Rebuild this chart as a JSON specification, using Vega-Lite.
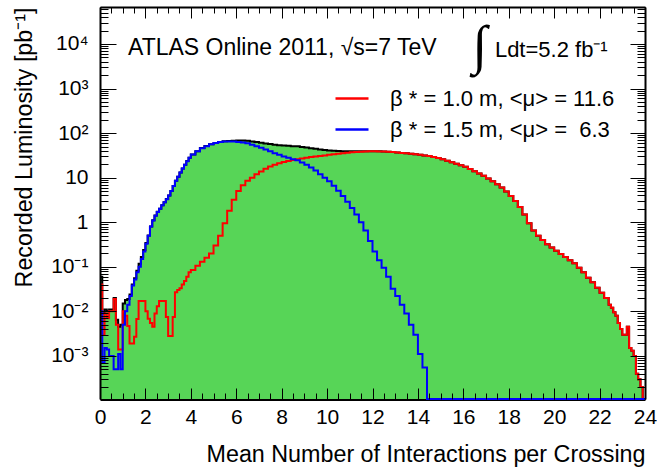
{
  "$schema": "https://vega.github.io/schema/vega-lite/v6.json",
  "width": 545,
  "height": 392,
  "autosize": {"type": "none"},
  "padding": {"left": 100, "top": 7, "right": 12, "bottom": 69},
  "config": {
    "font": "Liberation Sans",
    "view": {"stroke": null},
    "axis": {"grid": false, "labelColor": "black", "tickColor": "black", "domainColor": "black", "titleColor": "black", "labelFont": "Liberation Sans", "titleFont": "Liberation Sans", "titleFontWeight": "normal", "labelOverlap": false, "labelFlush": false, "tickWidth": 1}
  },
  "data": {"values": [
    {"x":0.0,"r":0.04,"b":0.010,"t":0.06},
    {"x":0.1,"r":0.003,"b":0.0007,"t":0.009},
    {"x":0.2,"r":0.009,"b":0.0015,"t":0.011},
    {"x":0.3,"r":0.007,"b":0.0014,"t":0.010},
    {"x":0.4,"r":0.010,"b":0.0010,"t":0.011},
    {"x":0.5,"r":0.010,"b":0.0010,"t":0.011},
    {"x":0.6,"r":0.019,"b":0.0005,"t":0.020},
    {"x":0.7,"r":0.005,"b":0.0005,"t":0.0065},
    {"x":0.8,"r":0.0014,"b":0.0011,"t":0.0045},
    {"x":0.9,"r":0.0014,"b":0.0005,"t":0.005},
    {"x":1.0,"r":0.010,"b":0.005,"t":0.015},
    {"x":1.1,"r":0.008,"b":0.010,"t":0.018},
    {"x":1.2,"r":0.0047,"b":0.014,"t":0.019},
    {"x":1.3,"r":0.0019,"b":0.022,"t":0.024},
    {"x":1.4,"r":0.0019,"b":0.038,"t":0.040},
    {"x":1.5,"r":0.0027,"b":0.052,"t":0.055},
    {"x":1.6,"r":0.0067,"b":0.075,"t":0.082},
    {"x":1.7,"r":0.017,"b":0.10,"t":0.117},
    {"x":1.8,"r":0.017,"b":0.15,"t":0.167},
    {"x":1.9,"r":0.017,"b":0.22,"t":0.237},
    {"x":2.0,"r":0.010,"b":0.33,"t":0.34},
    {"x":2.1,"r":0.0068,"b":0.5,"t":0.507},
    {"x":2.2,"r":0.0055,"b":0.8,"t":0.806},
    {"x":2.3,"r":0.0045,"b":1.1,"t":1.105},
    {"x":2.4,"r":0.009,"b":1.4,"t":1.41},
    {"x":2.5,"r":0.013,"b":1.7,"t":1.713},
    {"x":2.6,"r":0.017,"b":2.0,"t":2.017},
    {"x":2.7,"r":0.017,"b":2.4,"t":2.417},
    {"x":2.8,"r":0.017,"b":2.8,"t":2.817},
    {"x":2.9,"r":0.0075,"b":3.3,"t":3.31},
    {"x":3.0,"r":0.0028,"b":4.0,"t":4.0},
    {"x":3.1,"r":0.0028,"b":5.0,"t":5.0},
    {"x":3.2,"r":0.0075,"b":6.5,"t":6.51},
    {"x":3.3,"r":0.027,"b":8.5,"t":8.53},
    {"x":3.4,"r":0.030,"b":10.5,"t":10.53},
    {"x":3.5,"r":0.033,"b":13,"t":13.03},
    {"x":3.6,"r":0.040,"b":16,"t":16.04},
    {"x":3.7,"r":0.048,"b":19.5,"t":19.55},
    {"x":3.8,"r":0.060,"b":23.5,"t":23.56},
    {"x":3.9,"r":0.075,"b":28,"t":28.08},
    {"x":4.0,"r":0.085,"b":33,"t":33.09},
    {"x":4.2,"r":0.105,"b":39,"t":39.1},
    {"x":4.4,"r":0.13,"b":46,"t":46.13},
    {"x":4.6,"r":0.16,"b":51,"t":51.16},
    {"x":4.8,"r":0.2,"b":56,"t":56.2},
    {"x":5.0,"r":0.3,"b":60,"t":60.3},
    {"x":5.2,"r":0.5,"b":63,"t":63.5},
    {"x":5.4,"r":0.95,"b":64.5,"t":65.45},
    {"x":5.6,"r":1.8,"b":65,"t":66.8},
    {"x":5.8,"r":3.2,"b":64.5,"t":67.7},
    {"x":6.0,"r":5.0,"b":63.5,"t":68.5},
    {"x":6.2,"r":6.8,"b":61.5,"t":68.3},
    {"x":6.4,"r":8.5,"b":59,"t":67.5},
    {"x":6.6,"r":10,"b":55,"t":65},
    {"x":6.8,"r":12,"b":51,"t":63},
    {"x":7.0,"r":13.8,"b":47,"t":60.8},
    {"x":7.2,"r":15.8,"b":43,"t":58.8},
    {"x":7.4,"r":17.8,"b":39,"t":56.8},
    {"x":7.6,"r":19.6,"b":35.5,"t":55.1},
    {"x":7.8,"r":21.2,"b":32.5,"t":53.7},
    {"x":8.0,"r":22.6,"b":30,"t":52.6},
    {"x":8.2,"r":23.8,"b":28,"t":51.8},
    {"x":8.4,"r":25,"b":26,"t":51},
    {"x":8.6,"r":26,"b":24.5,"t":50.5},
    {"x":8.8,"r":27,"b":22,"t":49},
    {"x":9.0,"r":28,"b":19.5,"t":47.5},
    {"x":9.2,"r":29,"b":17,"t":46},
    {"x":9.4,"r":30,"b":14.5,"t":44.5},
    {"x":9.6,"r":30.8,"b":12,"t":42.8},
    {"x":9.8,"r":31.6,"b":10,"t":41.6},
    {"x":10.0,"r":32.5,"b":8.3,"t":40.8},
    {"x":10.2,"r":33.5,"b":6.6,"t":40.1},
    {"x":10.4,"r":34.5,"b":5.1,"t":39.6},
    {"x":10.6,"r":35.4,"b":3.9,"t":39.3},
    {"x":10.8,"r":36.2,"b":2.9,"t":39.1},
    {"x":11.0,"r":37,"b":2.1,"t":39.1},
    {"x":11.2,"r":37.7,"b":1.5,"t":39.2},
    {"x":11.4,"r":38.3,"b":1.0,"t":39.3},
    {"x":11.6,"r":38.7,"b":0.65,"t":39.35},
    {"x":11.8,"r":39,"b":0.38,"t":39.38},
    {"x":12.0,"r":39,"b":0.22,"t":39.22},
    {"x":12.2,"r":38.8,"b":0.14,"t":38.94},
    {"x":12.4,"r":38.5,"b":0.095,"t":38.6},
    {"x":12.6,"r":38,"b":0.06,"t":38.06},
    {"x":12.8,"r":37.5,"b":0.032,"t":37.53},
    {"x":13.0,"r":36.8,"b":0.022,"t":36.82},
    {"x":13.2,"r":36,"b":0.014,"t":36.01},
    {"x":13.4,"r":35.3,"b":0.009,"t":35.31},
    {"x":13.6,"r":34.5,"b":0.005,"t":34.5},
    {"x":13.8,"r":33.5,"b":0.003,"t":33.5},
    {"x":14.0,"r":32.5,"b":0.0011,"t":32.5},
    {"x":14.2,"r":31.5,"b":0.00055,"t":31.5},
    {"x":14.4,"r":30.5,"b":0.000108,"t":30.5},
    {"x":14.6,"r":29,"b":0.000108,"t":29},
    {"x":14.8,"r":27.5,"b":0.000108,"t":27.5},
    {"x":15.0,"r":25.8,"b":0.000108,"t":25.8},
    {"x":15.2,"r":24,"b":0.000108,"t":24},
    {"x":15.4,"r":22.3,"b":0.000108,"t":22.3},
    {"x":15.6,"r":20.5,"b":0.000108,"t":20.5},
    {"x":15.8,"r":19,"b":0.000108,"t":19},
    {"x":16.0,"r":17.5,"b":0.000108,"t":17.5},
    {"x":16.2,"r":15.7,"b":0.000108,"t":15.7},
    {"x":16.4,"r":14,"b":0.000108,"t":14},
    {"x":16.6,"r":12.4,"b":0.000108,"t":12.4},
    {"x":16.8,"r":11,"b":0.000108,"t":11},
    {"x":17.0,"r":9.6,"b":0.000108,"t":9.6},
    {"x":17.2,"r":8.3,"b":0.000108,"t":8.3},
    {"x":17.4,"r":7.1,"b":0.000108,"t":7.1},
    {"x":17.6,"r":6.0,"b":0.000108,"t":6.0},
    {"x":17.8,"r":4.9,"b":0.000108,"t":4.9},
    {"x":18.0,"r":3.9,"b":0.000108,"t":3.9},
    {"x":18.2,"r":3.0,"b":0.000108,"t":3.0},
    {"x":18.4,"r":2.2,"b":0.000108,"t":2.2},
    {"x":18.6,"r":1.5,"b":0.000108,"t":1.5},
    {"x":18.8,"r":0.95,"b":0.000108,"t":0.95},
    {"x":19.0,"r":0.65,"b":0.000108,"t":0.65},
    {"x":19.2,"r":0.5,"b":0.000108,"t":0.5},
    {"x":19.4,"r":0.4,"b":0.000108,"t":0.4},
    {"x":19.6,"r":0.32,"b":0.000108,"t":0.32},
    {"x":19.8,"r":0.27,"b":0.000108,"t":0.27},
    {"x":20.0,"r":0.23,"b":0.000108,"t":0.23},
    {"x":20.2,"r":0.195,"b":0.000108,"t":0.195},
    {"x":20.4,"r":0.165,"b":0.000108,"t":0.165},
    {"x":20.6,"r":0.14,"b":0.000108,"t":0.14},
    {"x":20.8,"r":0.12,"b":0.000108,"t":0.12},
    {"x":21.0,"r":0.095,"b":0.000108,"t":0.095},
    {"x":21.2,"r":0.075,"b":0.000108,"t":0.075},
    {"x":21.4,"r":0.057,"b":0.000108,"t":0.057},
    {"x":21.6,"r":0.045,"b":0.000108,"t":0.045},
    {"x":21.8,"r":0.034,"b":0.000108,"t":0.034},
    {"x":22.0,"r":0.026,"b":0.000108,"t":0.026},
    {"x":22.2,"r":0.02,"b":0.000108,"t":0.02},
    {"x":22.4,"r":0.014,"b":0.000108,"t":0.014},
    {"x":22.5,"r":0.012,"b":0.000108,"t":0.012},
    {"x":22.6,"r":0.0095,"b":0.000108,"t":0.0095},
    {"x":22.7,"r":0.008,"b":0.000108,"t":0.008},
    {"x":22.8,"r":0.0055,"b":0.000108,"t":0.0055},
    {"x":22.9,"r":0.004,"b":0.000108,"t":0.004},
    {"x":23.0,"r":0.003,"b":0.000108,"t":0.003},
    {"x":23.1,"r":0.003,"b":0.000108,"t":0.003},
    {"x":23.2,"r":0.0045,"b":0.000108,"t":0.0045},
    {"x":23.3,"r":0.0015,"b":0.000108,"t":0.0015},
    {"x":23.4,"r":0.0013,"b":0.000108,"t":0.0013},
    {"x":23.5,"r":0.001,"b":0.000108,"t":0.001},
    {"x":23.6,"r":0.0004,"b":0.000108,"t":0.0004},
    {"x":23.7,"r":0.0003,"b":0.000108,"t":0.0003},
    {"x":23.8,"r":0.0002,"b":0.000108,"t":0.0002},
    {"x":23.9,"r":0.000108,"b":0.000108,"t":0.000108},
    {"x":24.0,"r":0.000108,"b":0.000108,"t":0.000108}
  ]},
  "layer": [
    {
      "mark": {"type": "area", "interpolate": "step-after", "color": "#57d557", "clip": true},
      "encoding": {
        "x": {"field": "x", "type": "quantitative",
              "scale": {"domain": [0, 24], "nice": false, "zero": false},
              "axis": {"orient": "bottom", "values": [0,2,4,6,8,10,12,14,16,18,20,22,24], "format": "d", "ticks": false, "domain": true, "domainWidth": 3, "zindex": 0, "labelFontSize": 21, "labelPadding": 7,
                       "title": "Mean Number of Interactions per Crossing", "titleAnchor": "end", "titleFontSize": 23.3, "titlePadding": 16}},
        "y": {"field": "t", "type": "quantitative",
              "scale": {"type": "log", "domain": [0.000108, 67600], "nice": false},
              "axis": {"orient": "left", "values": [0.001,0.01,0.1,1,10,100,1000,10000], "ticks": false, "domain": false, "labelFontSize": 21, "labelPadding": 12,
                       "labelExpr": "datum.value >= 9999 ? '10⁴' : datum.value >= 999 ? '10³' : datum.value >= 99 ? '10²' : datum.value >= 9 ? '10' : datum.value >= 0.9 ? '1' : datum.value >= 0.09 ? '10⁻¹' : datum.value >= 0.009 ? '10⁻²' : '10⁻³'",
                       "title": "Recorded Luminosity [pb⁻¹]", "titleAnchor": "end", "titleFontSize": 23.3, "titlePadding": 14}},
        "y2": {"datum": 0.000108}
      }
    },
    {
      "mark": {"type": "line", "interpolate": "step-after", "color": "black", "strokeWidth": 2, "clip": false},
      "encoding": {
        "x": {"field": "x", "type": "quantitative",
              "axis": {"orient": "bottom", "values": [0,2,4,6,8,10,12,14,16,18,20,22,24], "labels": false, "domain": false, "tickSize": -11, "zindex": 1, "title": null}},
        "y": {"field": "t", "type": "quantitative",
              "axis": {"orient": "left", "values": [0.001,0.01,0.1,1,10,100,1000,10000], "labels": false, "domain": true, "domainWidth": 2, "tickSize": -16, "zindex": 1, "title": null}}
      }
    },
    {
      "mark": {"type": "line", "interpolate": "step-after", "strokeWidth": 2, "clip": false},
      "encoding": {
        "x": {"field": "x", "type": "quantitative",
              "axis": {"orient": "bottom", "values": [0,0.5,1,1.5,2,2.5,3,3.5,4,4.5,5,5.5,6,6.5,7,7.5,8,8.5,9,9.5,10,10.5,11,11.5,12,12.5,13,13.5,14,14.5,15,15.5,16,16.5,17,17.5,18,18.5,19,19.5,20,20.5,21,21.5,22,22.5,23,23.5,24], "labels": false, "domain": false, "tickSize": -6, "zindex": 1, "title": null}},
        "y": {"field": "r", "type": "quantitative",
              "axis": {"orient": "left", "values": [0.0002,0.0003,0.0004,0.0005,0.0006,0.0007,0.0008,0.0009,0.002,0.003,0.004,0.005,0.006,0.007,0.008,0.009,0.02,0.03,0.04,0.05,0.06,0.07,0.08,0.09,0.2,0.3,0.4,0.5,0.6,0.7,0.8,0.9,2,3,4,5,6,7,8,9,20,30,40,50,60,70,80,90,200,300,400,500,600,700,800,900,2000,3000,4000,5000,6000,7000,8000,9000,20000,30000,40000,50000,60000], "labels": false, "domain": false, "tickSize": -8, "zindex": 1, "title": null}},
        "color": {"datum": "β * = 1.0 m, <μ> = 11.6", "type": "nominal",
                  "scale": {"domain": ["β * = 1.0 m, <μ> = 11.6", "β * = 1.5 m, <μ> = \u00a06.3"], "range": ["#ff0000", "#0000ff"]},
                  "legend": {"orient": "none", "legendX": 234, "legendY": 73.5, "title": null, "symbolType": "stroke", "symbolSize": 1089, "symbolStrokeWidth": 2.5, "labelFontSize": 22, "labelFont": "Liberation Sans", "labelColor": "black", "labelOffset": 20, "rowPadding": 2, "padding": 0, "labelLimit": 400}}
      }
    },
    {
      "mark": {"type": "line", "interpolate": "step-after", "strokeWidth": 2, "clip": false},
      "encoding": {
        "x": {"field": "x", "type": "quantitative",
              "axis": {"orient": "top", "values": [0,2,4,6,8,10,12,14,16,18,20,22,24], "labels": false, "domain": true, "domainWidth": 2, "tickSize": -11, "zindex": 1, "title": null}},
        "y": {"field": "b", "type": "quantitative",
              "axis": {"orient": "right", "values": [0.001,0.01,0.1,1,10,100,1000,10000], "labels": false, "domain": true, "domainWidth": 2, "tickSize": -15, "zindex": 1, "title": null}},
        "color": {"datum": "β * = 1.5 m, <μ> = \u00a06.3", "type": "nominal"}
      }
    },
    {
      "data": {"values": [{}]},
      "mark": {"type": "text", "text": "ATLAS Online 2011, √s=7 TeV", "align": "left", "baseline": "alphabetic", "fontSize": 23, "font": "Liberation Sans", "color": "black"},
      "encoding": {
        "x": {"datum": 1.233, "type": "quantitative",
              "axis": {"orient": "top", "values": [0,0.5,1,1.5,2,2.5,3,3.5,4,4.5,5,5.5,6,6.5,7,7.5,8,8.5,9,9.5,10,10.5,11,11.5,12,12.5,13,13.5,14,14.5,15,15.5,16,16.5,17,17.5,18,18.5,19,19.5,20,20.5,21,21.5,22,22.5,23,23.5,24], "labels": false, "domain": false, "tickSize": -6, "zindex": 1, "title": null}},
        "y": {"datum": 5675, "type": "quantitative",
              "axis": {"orient": "right", "values": [0.0002,0.0003,0.0004,0.0005,0.0006,0.0007,0.0008,0.0009,0.002,0.003,0.004,0.005,0.006,0.007,0.008,0.009,0.02,0.03,0.04,0.05,0.06,0.07,0.08,0.09,0.2,0.3,0.4,0.5,0.6,0.7,0.8,0.9,2,3,4,5,6,7,8,9,20,30,40,50,60,70,80,90,200,300,400,500,600,700,800,900,2000,3000,4000,5000,6000,7000,8000,9000,20000,30000,40000,50000,60000], "labels": false, "domain": false, "tickSize": -8, "zindex": 1, "title": null}}
      }
    },
    {
      "data": {"values": [{}]},
      "mark": {"type": "text", "text": "∫", "align": "center", "baseline": "middle", "fontSize": 54, "fontWeight": "bold", "font": "Liberation Serif", "color": "black"},
      "encoding": {
        "x": {"datum": 16.73, "type": "quantitative", "axis": null},
        "y": {"datum": 8570, "type": "quantitative", "axis": null}
      }
    },
    {
      "data": {"values": [{}]},
      "mark": {"type": "text", "text": "Ldt=5.2 fb⁻¹", "align": "left", "baseline": "alphabetic", "fontSize": 22, "font": "Liberation Sans", "color": "black"},
      "encoding": {
        "x": {"datum": 17.39, "type": "quantitative", "axis": null},
        "y": {"datum": 5115, "type": "quantitative", "axis": null}
      }
    }
  ],
  "resolve": {"axis": {"x": "independent", "y": "independent"}}
}
